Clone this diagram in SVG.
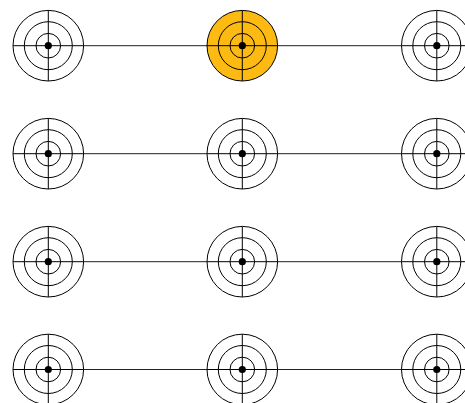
<svg xmlns="http://www.w3.org/2000/svg" xmlns:xlink="http://www.w3.org/1999/xlink" width="465" height="403" viewBox="0 0 465 403">
<style>
.edge{stroke:#222;stroke-width:1;fill:none}
.ring{fill:none;stroke:#000;stroke-width:1}
.outer{stroke:#000;stroke-width:1}
.node{fill:#fff}
.hl{fill:#FDBA13}
.cross{stroke:#000;stroke-width:1}
</style>
<defs>
<g id="target">
<circle class="outer" r="35.3"/>
<circle class="ring" r="24"/>
<circle class="ring" r="12.3"/>
<line class="cross" x1="-35.3" y1="0" x2="35.3" y2="0"/>
<line class="cross" x1="0" y1="-35.3" x2="0" y2="35.3"/>
<circle r="3.6" style="fill:#000"/>
</g>
</defs>
<rect width="465" height="403" fill="#fff"/>
<g id="connectors">
<line class="edge" x1="48.3" y1="45.7" x2="465" y2="45.7"/>
<line class="edge" x1="48.3" y1="153.7" x2="465" y2="153.7"/>
<line class="edge" x1="48.3" y1="261.7" x2="465" y2="261.7"/>
<line class="edge" x1="48.3" y1="369.5" x2="465" y2="369.5"/>
</g>
<g id="n11" class="node"><use xlink:href="#target" x="48.3" y="45.7"/></g>
<g id="n12" class="hl"><use xlink:href="#target" x="242.3" y="45.7"/></g>
<g id="n13" class="node"><use xlink:href="#target" x="436.8" y="45.7"/></g>
<g id="n21" class="node"><use xlink:href="#target" x="48.3" y="153.7"/></g>
<g id="n22" class="node"><use xlink:href="#target" x="242.3" y="153.7"/></g>
<g id="n23" class="node"><use xlink:href="#target" x="436.8" y="153.7"/></g>
<g id="n31" class="node"><use xlink:href="#target" x="48.3" y="261.7"/></g>
<g id="n32" class="node"><use xlink:href="#target" x="242.3" y="261.7"/></g>
<g id="n33" class="node"><use xlink:href="#target" x="436.8" y="261.7"/></g>
<g id="n41" class="node"><use xlink:href="#target" x="48.3" y="369.5"/></g>
<g id="n42" class="node"><use xlink:href="#target" x="242.3" y="369.5"/></g>
<g id="n43" class="node"><use xlink:href="#target" x="436.8" y="369.5"/></g>
</svg>
